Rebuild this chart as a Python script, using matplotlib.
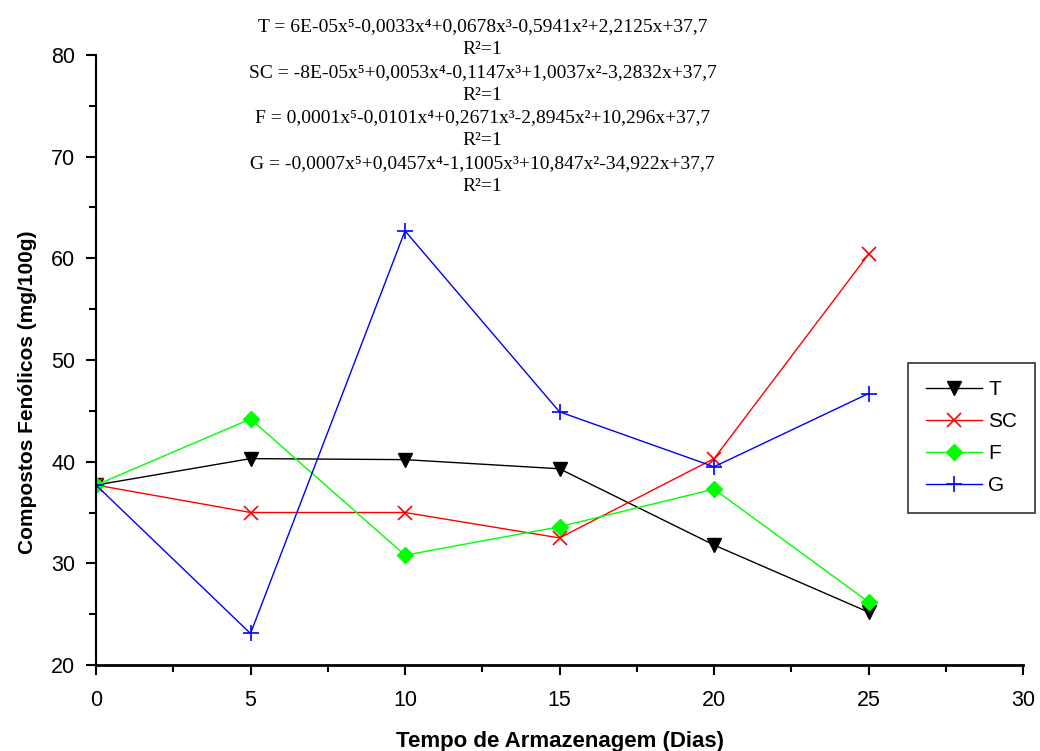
import matplotlib
matplotlib.use('Agg')
import matplotlib.pyplot as plt
from matplotlib.ticker import MultipleLocator

dias = [0, 5, 10, 15, 20, 25]
t_vals = [37.7, 40.3, 40.2, 39.3, 31.8, 25.2]
sc_vals = [37.7, 35.0, 35.0, 32.5, 40.3, 60.4]
f_vals = [37.7, 44.2, 30.8, 33.6, 37.3, 26.2]
g_vals = [37.7, 23.1, 62.7, 44.9, 39.5, 46.7]

equacoes = [
    'T = 6E-05x\u2075-0,0033x\u2074+0,0678x\u00b3-0,5941x\u00b2+2,2125x+37,7',
    'R\u00b2=1',
    'SC = -8E-05x\u2075+0,0053x\u2074-0,1147x\u00b3+1,0037x\u00b2-3,2832x+37,7',
    'R\u00b2=1',
    'F = 0,0001x\u2075-0,0101x\u2074+0,2671x\u00b3-2,8945x\u00b2+10,296x+37,7',
    'R\u00b2=1',
    'G = -0,0007x\u2075+0,0457x\u2074-1,1005x\u00b3+10,847x\u00b2-34,922x+37,7',
    'R\u00b2=1',
]

plt.rcParams['font.family'] = ['Liberation Sans', 'DejaVu Sans']

fig = plt.figure(figsize=(10.4, 7.51), dpi=100)
ax = fig.add_axes([0.0923, 0.1145, 0.8914, 0.8123])

ax.plot(dias, t_vals, color='black', lw=1, marker='v', ms=10, label='T')
ax.plot(dias, sc_vals, color='red', lw=1, marker='x', ms=10, mew=1.2, label='SC')
ax.plot(dias, f_vals, color='#00ff00', lw=1, marker='D', ms=8, label='F')
ax.plot(dias, g_vals, color='blue', lw=1, marker='+', ms=11, mew=1.2, label='G')

ax.set_xlim(0, 30)
ax.set_ylim(20, 80)
ax.xaxis.set_major_locator(MultipleLocator(5))
ax.xaxis.set_minor_locator(MultipleLocator(2.5))
ax.yaxis.set_major_locator(MultipleLocator(10))
ax.yaxis.set_minor_locator(MultipleLocator(5))
ax.spines['top'].set_visible(False)
ax.spines['right'].set_visible(False)
ax.spines['left'].set_linewidth(1.5)
ax.spines['bottom'].set_linewidth(2)
ax.tick_params(which='major', direction='out', length=7, width=1.5)
ax.tick_params(which='minor', direction='out', length=5, width=1.5)
ax.tick_params(axis='y', labelsize=15.5, pad=8)
ax.tick_params(axis='x', labelsize=15.5, pad=11)

ax.set_xlabel('Tempo de Armazenagem (Dias)', fontsize=16, fontweight='bold')
ax.set_ylabel('Compostos Fenólicos (mg/100g)', fontsize=15, fontweight='bold')
ax.xaxis.set_label_coords(0.5, -0.108)
ax.yaxis.set_label_coords(-0.064, 0.4475)

y0 = 0.965
for i, linha in enumerate(equacoes):
    fig.text(0.464, y0 - i * 0.0305, linha, ha='center', va='center', fontsize=14,
             family=['Liberation Serif', 'DejaVu Serif'])

leg = fig.legend(loc='upper left', bbox_to_anchor=(0.873, 0.517), frameon=True,
                 fancybox=False, edgecolor='black', fontsize=15, handlelength=2.7,
                 labelspacing=0.62, borderpad=0.85, handletextpad=0.3, borderaxespad=0)
leg.get_frame().set_linewidth(1.2)

fig.savefig('out.png', dpi=100)
